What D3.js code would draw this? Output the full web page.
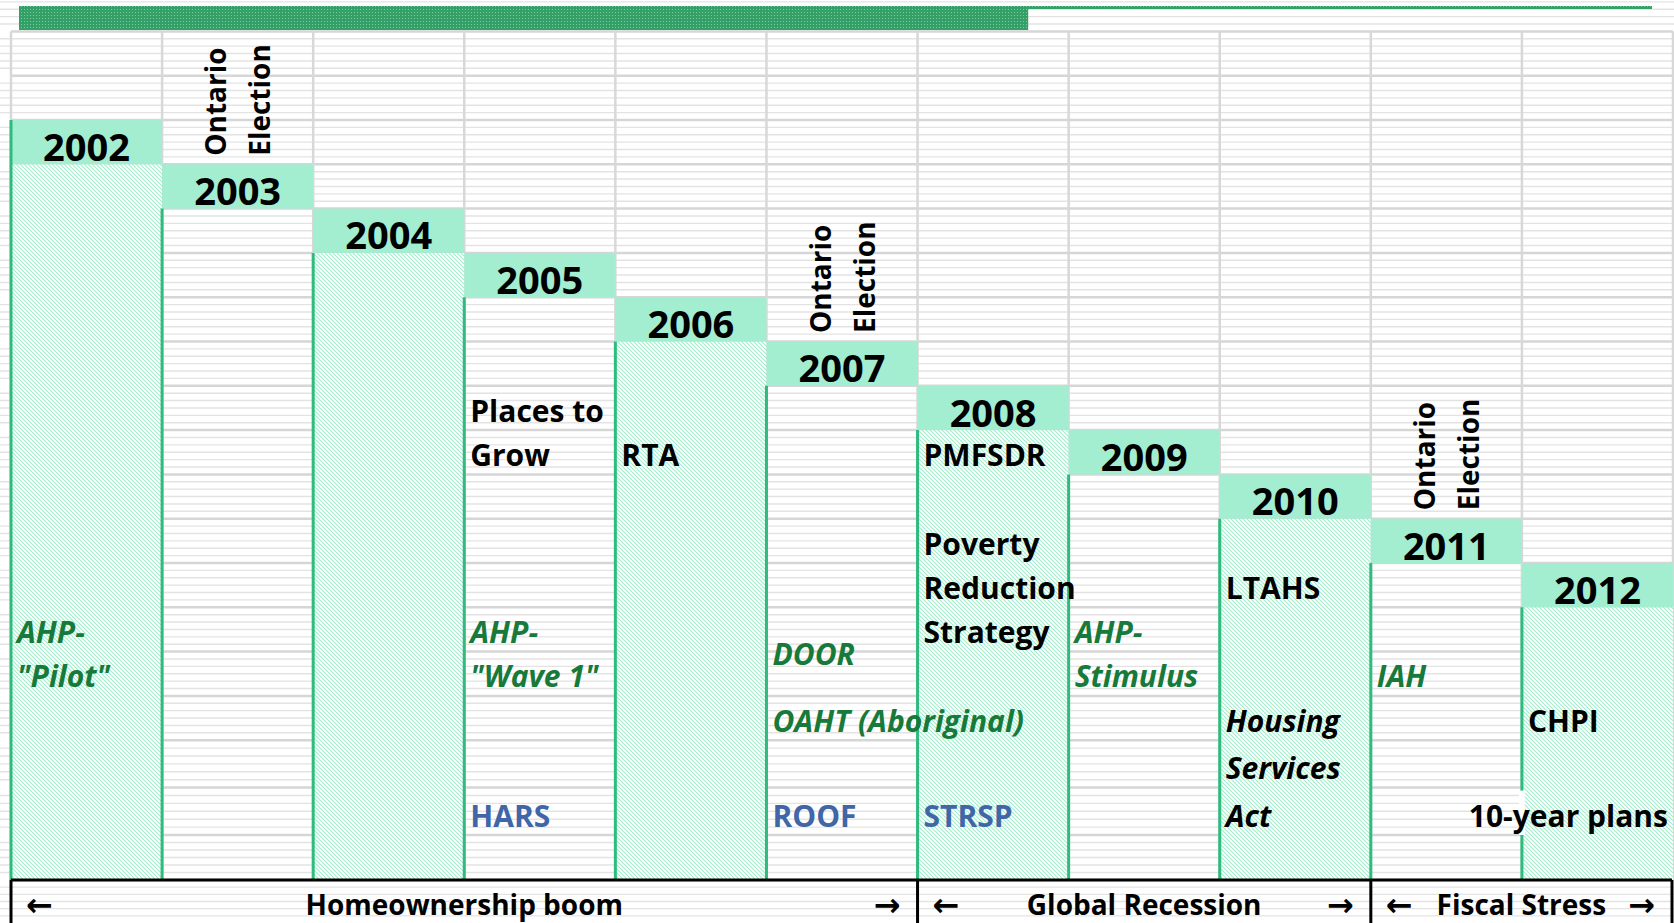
<!DOCTYPE html>
<html>
<head>
<meta charset="utf-8">
<script src="https://cdn.jsdelivr.net/npm/d3@7"></script>
<style>
  html, body { margin: 0; padding: 0; background: #fff; }
  svg { display: block; }
  text { font-family: "Open Sans", "Liberation Sans", sans-serif; font-weight: bold; }
  .arrow { font-family: "DejaVu Sans", sans-serif; font-weight: bold; }
</style>
</head>
<body>
<script>
// ---- data ----
var years = ["2002", "2003", "2004", "2005", "2006", "2007", "2008", "2009", "2010", "2011", "2012"];
var bandRows = [2, 3, 4, 5, 6, 7, 8, 9, 10, 11, 12];   // spreadsheet row of each year's header
var hatchedYears = ["2002", "2004", "2006", "2008", "2010", "2012"];
var electionYears = ["2003", "2007", "2011"];

var events = [
  {year: "2002", row: 13,   text: "AHP-",              kind: "program"},
  {year: "2002", row: 14,   text: "\"Pilot\"",         kind: "program"},
  {year: "2005", row: 8,    text: "Places to",         kind: "policy"},
  {year: "2005", row: 9,    text: "Grow",              kind: "policy"},
  {year: "2005", row: 13,   text: "AHP-",              kind: "program"},
  {year: "2005", row: 14,   text: "\"Wave 1\"",        kind: "program"},
  {year: "2005", row: 17,   text: "HARS",              kind: "federal"},
  {year: "2006", row: 9,    text: "RTA",               kind: "policy"},
  {year: "2007", row: 13.5, text: "DOOR",              kind: "program"},
  {year: "2007", row: 15,   text: "OAHT (Aboriginal)", kind: "program"},
  {year: "2007", row: 17,   text: "ROOF",              kind: "federal"},
  {year: "2008", row: 9,    text: "PMFSDR",            kind: "policy"},
  {year: "2008", row: 11,   text: "Poverty",           kind: "policy"},
  {year: "2008", row: 12,   text: "Reduction",         kind: "policy"},
  {year: "2008", row: 13,   text: "Strategy",          kind: "policy"},
  {year: "2008", row: 17,   text: "STRSP",             kind: "federal"},
  {year: "2009", row: 13,   text: "AHP-",              kind: "program"},
  {year: "2009", row: 14,   text: "Stimulus",          kind: "program"},
  {year: "2010", row: 12,   text: "LTAHS",             kind: "policy"},
  {year: "2010", row: 15,   text: "Housing",           kind: "act"},
  {year: "2010", row: 16,   text: "Services",          kind: "act"},
  {year: "2010", row: 17,   text: "Act",               kind: "act"},
  {year: "2011", row: 14,   text: "IAH",               kind: "program"},
  {year: "2012", row: 15,   text: "CHPI",              kind: "policy"},
  {year: "2012", row: 17,   text: "10-year plans",     kind: "plans"}
];

var periods = [
  {label: "Homeownership boom", from: "2002", to: "2007"},
  {label: "Global Recession",   from: "2008", to: "2010"},
  {label: "Fiscal Stress",      from: "2011", to: "2012"}
];

var progressShare = 0.618;

// ---- setup ----
var width = 1674, height = 923;

var x = d3.scaleBand().domain(years).range([11, 1673]).padding(0);
var bw = x.bandwidth();

// rows are not quite even at the bottom of the sheet
var y = d3.scaleLinear()
    .domain([0, 16, 18, 19, 20])
    .range([31.4, 740.2, 835, 880, 923]);

var styles = {
  policy:  {fill: "#000",    italic: false},
  program: {fill: "#17793a", italic: true},
  federal: {fill: "#4066a8", italic: false},
  act:     {fill: "#000",    italic: true},
  plans:   {fill: "#000",    italic: false}
};

var svg = d3.select("body").append("svg")
    .attr("width", width)
    .attr("height", height);

var defs = svg.append("defs");

var hatch = defs.append("pattern")
    .attr("id", "hatch")
    .attr("patternUnits", "userSpaceOnUse")
    .attr("width", 4).attr("height", 4);
hatch.append("rect").attr("width", 4).attr("height", 4).attr("fill", "#fff");
hatch.append("path")
    .attr("d", "M0,0L4,4M-1,3L1,5M3,-1L5,1")
    .attr("stroke", "#a6edcf")
    .attr("stroke-width", 1.2);

var dots = defs.append("pattern")
    .attr("id", "dots")
    .attr("patternUnits", "userSpaceOnUse")
    .attr("width", 3).attr("height", 3);
dots.append("rect").attr("width", 3).attr("height", 3).attr("fill", "#33a068");
dots.append("rect").attr("width", 1).attr("height", 1).attr("fill", "#7dcaa0");

svg.append("rect").attr("width", width).attr("height", height).attr("fill", "#fff");

// thin sheet stripes
var stripes = [];
d3.range(-1, 20).forEach(function(k) {
  d3.range(1, 6).forEach(function(j) { stripes.push(k + j / 6); });
});
svg.append("g").selectAll("line")
    .data(stripes)
  .enter().append("line")
    .attr("x1", 0).attr("x2", width)
    .attr("y1", d => y(d)).attr("y2", d => y(d))
    .attr("stroke", "#e3e3e3")
    .attr("stroke-width", 1.4);

// row gridlines
svg.append("g").selectAll("line")
    .data(d3.range(0, 20))
  .enter().append("line")
    .attr("x1", 11).attr("x2", 1673)
    .attr("y1", d => y(d)).attr("y2", d => y(d))
    .attr("stroke", "#d6d6d6")
    .attr("stroke-width", 2.5);

// column gridlines
svg.append("g").selectAll("line")
    .data(years.map(x).concat([x.range()[1]]))
  .enter().append("line")
    .attr("x1", d => d).attr("x2", d => d)
    .attr("y1", y(0)).attr("y2", y(19))
    .attr("stroke", "#d8d8d8")
    .attr("stroke-width", 2.5);

// hatched column bodies
svg.append("g").selectAll("rect")
    .data(hatchedYears)
  .enter().append("rect")
    .attr("x", d => x(d))
    .attr("width", bw)
    .attr("y", d => y(bandRows[years.indexOf(d)] + 1))
    .attr("height", d => y(19) - y(bandRows[years.indexOf(d)] + 1))
    .attr("fill", "url(#hatch)");

// year header bands
svg.append("g").selectAll("rect")
    .data(years)
  .enter().append("rect")
    .attr("x", d => x(d))
    .attr("width", bw)
    .attr("y", (d, i) => y(bandRows[i]))
    .attr("height", (d, i) => y(bandRows[i] + 1) - y(bandRows[i]))
    .attr("fill", "#a3edd0");

// green column edges
svg.append("g").selectAll("line")
    .data(years)
  .enter().append("line")
    .attr("x1", d => x(d)).attr("x2", d => x(d))
    .attr("y1", (d, i) => i === 0 ? y(bandRows[i]) : y(bandRows[i] + 1))
    .attr("y2", y(19))
    .attr("stroke", "#2fbb7e")
    .attr("stroke-width", 3);

// year labels
svg.append("g").selectAll("text")
    .data(years)
  .enter().append("text")
    .attr("x", d => x(d) + bw / 2)
    .attr("y", (d, i) => y(bandRows[i] + 1) - 3.5)
    .attr("text-anchor", "middle")
    .style("font-size", "38px")
    .attr("fill", "#000")
    .text(d => d);

// Ontario Election, rotated
var elect = svg.append("g").selectAll("g")
    .data(electionYears)
  .enter().append("g")
    .attr("transform", d => "translate(" + (x(d) + bw / 2 - 11.5) + "," + (y(bandRows[years.indexOf(d)]) - 8.5) + ") rotate(-90)");
elect.append("text").attr("x", 0).attr("y", 0).style("font-size", "28px").text("Ontario");
elect.append("text").attr("x", 0).attr("y", 44).style("font-size", "28px").text("Election");

// top progress bar
var bar = d3.scaleLinear().domain([0, 1]).range([19, 1652]);
svg.append("rect")
    .attr("x", bar(0)).attr("y", 6)
    .attr("width", bar(1) - bar(0)).attr("height", 3)
    .attr("fill", "url(#dots)");
svg.append("rect")
    .attr("x", bar(0)).attr("y", 6)
    .attr("width", bar(progressShare) - bar(0)).attr("height", 24)
    .attr("fill", "url(#dots)");

// the "10-year plans" cell hides the 2012 edge
var plan = events.filter(d => d.kind === "plans")[0];
svg.append("rect")
    .attr("x", x(plan.year) - 3).attr("width", 6)
    .attr("y", y(plan.row) + 3)
    .attr("height", y(plan.row + 1) - y(plan.row) - 3)
    .attr("fill", "#fff");

// event labels
svg.append("g").selectAll("text")
    .data(events)
  .enter().append("text")
    .attr("x", d => d.kind === "plans" ? x(d.year) + bw - 5 : x(d.year) + 6)
    .attr("y", d => y(d.row + 1) - 8.5)
    .attr("text-anchor", d => d.kind === "plans" ? "end" : "start")
    .style("font-size", "30px")
    .style("font-style", d => styles[d.kind].italic ? "italic" : "normal")
    .attr("fill", d => styles[d.kind].fill)
    .text(d => d.text);

// bottom period boxes
var bottom = svg.append("g");
bottom.append("line")
    .attr("x1", 11).attr("x2", 1672)
    .attr("y1", y(19)).attr("y2", y(19))
    .attr("stroke", "#000").attr("stroke-width", 3);

var per = bottom.selectAll("g")
    .data(periods)
  .enter().append("g");

per.append("line")
    .attr("x1", d => x(d.from)).attr("x2", d => x(d.from))
    .attr("y1", y(19)).attr("y2", height)
    .attr("stroke", "#000").attr("stroke-width", 3);

bottom.append("line")
    .attr("x1", 1672).attr("x2", 1672)
    .attr("y1", y(19)).attr("y2", height)
    .attr("stroke", "#000").attr("stroke-width", 3);

per.append("text")
    .attr("class", "arrow")
    .attr("x", d => x(d.from) + 15)
    .attr("y", 916)
    .style("font-size", "32px")
    .text("\u2190");

per.append("text")
    .attr("class", "arrow")
    .attr("x", d => Math.min(x(d.to) + bw, 1672) - 17)
    .attr("y", 916)
    .attr("text-anchor", "end")
    .style("font-size", "32px")
    .text("\u2192");

per.append("text")
    .attr("x", d => (x(d.from) + Math.min(x(d.to) + bw, 1672)) / 2)
    .attr("y", 915)
    .attr("text-anchor", "middle")
    .style("font-size", "28px")
    .text(d => d.label);
</script>
</body>
</html>
